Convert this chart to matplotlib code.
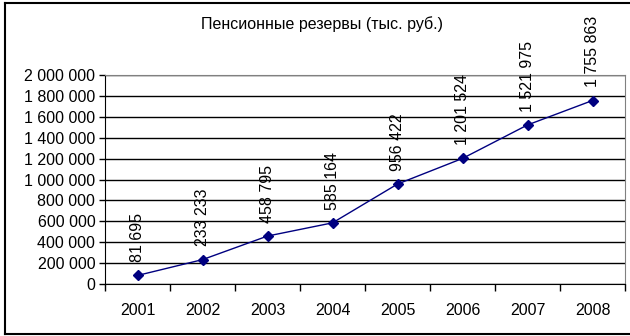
import matplotlib.pyplot as plt
from matplotlib.ticker import FuncFormatter, FixedLocator
from matplotlib.lines import Line2D

years = ['2001', '2002', '2003', '2004', '2005', '2006', '2007', '2008']
reserves = [81695, 233233, 458795, 585164, 956422, 1201524, 1521975, 1755863]
title = 'Пенсионные резервы (тыс. руб.)'


def spaced(v):
    return '{:,.0f}'.format(v).replace(',', ' ')


plt.rcParams['font.family'] = ['Liberation Sans', 'DejaVu Sans']
plt.rcParams['font.size'] = 11.5

fig = plt.figure(figsize=(6.3, 3.36), dpi=100)
ax = fig.add_axes([105 / 630, 1 - 284 / 336, 520 / 630, 209 / 336])

x = list(range(len(years)))
ax.plot(x, reserves, color='#000080', lw=1, marker='D', ms=5, mfc='#000080', mec='#000080')
for xi, v in zip(x, reserves):
    ax.annotate(spaced(v), (xi, v), xytext=(0, 9.5), textcoords='offset points',
                rotation=90, ha='center', va='bottom', annotation_clip=False)

ax.set_xlim(-0.5, len(years) - 0.5)
ax.set_ylim(0, 2000000)
ax.yaxis.set_major_locator(FixedLocator(range(0, 2000001, 200000)))
ax.yaxis.set_major_formatter(FuncFormatter(lambda v, p: spaced(v)))
ax.set_xticks(x)
ax.set_xticklabels(years)
ax.set_xticks([i - 0.5 for i in range(len(years) + 1)], minor=True)
ax.tick_params(axis='x', which='major', length=0, pad=14)
ax.tick_params(axis='x', which='minor', length=5, direction='out', width=1)
ax.tick_params(axis='y', length=4, width=1, pad=3)
ax.grid(axis='y', color='black', lw=1)
ax.set_axisbelow(True)
for side in ['top', 'right']:
    ax.spines[side].set_color('#808080')
for side in ['left', 'bottom']:
    ax.spines[side].set_color('black')

fig.text(322 / 630, 1 - 24 / 336, title, ha='center', va='center')

# outer chart frame
fx0, fx1 = 5 / 630, 629 / 630
fy0, fy1 = 1 - 334 / 336, 1 - 3 / 336
fig.add_artist(Line2D([fx0, fx0], [fy0, fy1], color='black', lw=1.5, transform=fig.transFigure))
fig.add_artist(Line2D([fx0, fx1], [fy1, fy1], color='black', lw=1.5, transform=fig.transFigure))
fig.add_artist(Line2D([fx0, fx1], [fy0, fy0], color='black', lw=1.5, transform=fig.transFigure))

fig.savefig('out.png', dpi=100)
